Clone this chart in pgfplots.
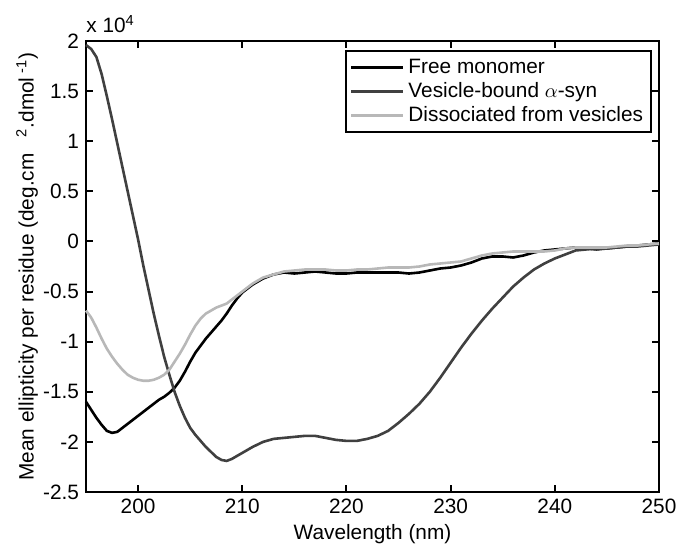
\documentclass[border=0pt]{standalone}
\usepackage{fontspec}
\setmainfont{Liberation Sans}
\usepackage{pgfplots}
\pgfplotsset{compat=1.18}
\definecolor{vesgray}{gray}{0.25}
\definecolor{disgray}{gray}{0.72}

\begin{document}
\begin{tikzpicture}
\useasboundingbox (0,0) rectangle (339.5pt,273pt);
\begin{axis}[
    at={(43pt,27pt)}, anchor=south west,
    scale only axis,
    width=286.5pt, height=225.5pt,
    xmin=195, xmax=250,
    ymin=-2.5, ymax=2,
    xtick={200,210,...,250},
    ytick={-2.5,-2,...,2},
    tick align=inside,
    tick pos=both,
    major tick length=3.5pt,
    axis line style={line width=1.2pt},
    every tick/.style={black, line width=1pt},
    font=\fontsize{10.4}{12.5}\selectfont,
    /pgf/number format/assume math mode=true,
    /pgf/number format/fixed,
    xlabel={Wavelength (nm)},
    ylabel={Mean ellipticity per residue (deg.cm\hspace{8pt}\textsuperscript{2}.dmol\textsuperscript{ -1})},
    xlabel style={at={(axis description cs:0.5,-0.093)}, anchor=center},
    ylabel style={at={(axis description cs:-0.103,0.5)}, anchor=center},
    legend style={at={(rel axis cs:0.988,0.98)}, anchor=north east,
        draw=black, line width=1pt, inner sep=2pt,
        row sep=-1pt, font=\fontsize{10.4}{12.5}\selectfont},
    legend cell align=left,
    legend image code/.code={\draw[#1] (0pt,0pt) -- (26pt,0pt);},
    clip=false,
]
\addplot[black, line width=1.3pt] coordinates {
(195,-1.60) (195.5,-1.68) (196,-1.76) (196.5,-1.83) (197,-1.89) (197.5,-1.91)
(198,-1.90) (198.5,-1.86) (199,-1.82) (199.5,-1.78) (200,-1.74) (200.5,-1.70)
(201,-1.66) (201.5,-1.62) (202,-1.58) (202.5,-1.55) (203,-1.51) (203.5,-1.46)
(204,-1.39) (204.5,-1.30) (205,-1.20) (205.5,-1.11) (206,-1.04) (206.5,-0.97)
(207,-0.91) (207.5,-0.85) (208,-0.79) (208.5,-0.72) (209,-0.64) (209.5,-0.57)
(210,-0.51) (211,-0.43) (212,-0.37) (213,-0.33) (214,-0.31) (215,-0.32)
(216,-0.31) (217,-0.30) (218,-0.31) (219,-0.32) (220,-0.32) (221,-0.31)
(222,-0.31) (223,-0.31) (224,-0.31) (225,-0.31) (226,-0.32) (227,-0.31)
(228,-0.29) (229,-0.27) (230,-0.26) (231,-0.24) (232,-0.21) (233,-0.17)
(234,-0.15) (235,-0.15) (236,-0.16) (237,-0.14) (238,-0.11) (239,-0.09)
(240,-0.08) (241,-0.07) (242,-0.06) (243,-0.07) (244,-0.08) (245,-0.07)
(246,-0.06) (247,-0.05) (248,-0.04) (249,-0.03) (250,-0.02)
};
\addlegendentry{Free monomer}
\addplot[vesgray, line width=1.3pt] coordinates {
(195,1.96) (195.5,1.92) (196,1.84) (196.5,1.67) (197,1.45) (197.5,1.22)
(198,0.98) (198.5,0.74) (199,0.50) (199.5,0.26) (200,0.02) (200.5,-0.24)
(201,-0.48) (201.5,-0.72) (202,-0.94) (202.5,-1.15) (203,-1.33) (203.5,-1.50)
(204,-1.64) (204.5,-1.76) (205,-1.86) (205.5,-1.93) (206,-1.99) (206.5,-2.05)
(207,-2.10) (207.5,-2.15) (208,-2.18) (208.5,-2.19) (209,-2.17) (209.5,-2.14)
(210,-2.11) (211,-2.05) (212,-2.00) (213,-1.97) (214,-1.96) (215,-1.95)
(216,-1.94) (217,-1.94) (218,-1.96) (219,-1.98) (220,-1.99) (221,-1.99)
(222,-1.97) (223,-1.94) (224,-1.89) (225,-1.81) (226,-1.72) (227,-1.62)
(228,-1.50) (229,-1.36) (230,-1.21) (231,-1.06) (232,-0.92) (233,-0.79)
(234,-0.67) (235,-0.56) (236,-0.45) (237,-0.36) (238,-0.28) (239,-0.22)
(240,-0.17) (241,-0.13) (242,-0.09) (243,-0.08) (244,-0.07) (245,-0.07)
(246,-0.06) (247,-0.05) (248,-0.05) (249,-0.04) (250,-0.03)
};
\addlegendentry{Vesicle-bound $\alpha$-syn}
\addplot[disgray, line width=1.3pt] coordinates {
(195,-0.69) (195.5,-0.76) (196,-0.86) (196.5,-0.97) (197,-1.07) (197.5,-1.15)
(198,-1.22) (198.5,-1.28) (199,-1.33) (199.5,-1.36) (200,-1.38) (200.5,-1.39)
(201,-1.39) (201.5,-1.38) (202,-1.36) (202.5,-1.33) (203,-1.28) (203.5,-1.20)
(204,-1.12) (204.5,-1.03) (205,-0.93) (205.5,-0.84) (206,-0.77) (206.5,-0.72)
(207,-0.69) (207.5,-0.66) (208,-0.64) (208.5,-0.62) (209,-0.58) (209.5,-0.54)
(210,-0.50) (211,-0.42) (212,-0.36) (213,-0.33) (214,-0.30) (215,-0.29)
(216,-0.28) (217,-0.28) (218,-0.28) (219,-0.29) (220,-0.29) (221,-0.28)
(222,-0.28) (223,-0.27) (224,-0.26) (225,-0.26) (226,-0.26) (227,-0.25)
(228,-0.23) (229,-0.22) (230,-0.21) (231,-0.20) (232,-0.17) (233,-0.14)
(234,-0.12) (235,-0.11) (236,-0.10) (237,-0.10) (238,-0.10) (239,-0.10)
(240,-0.09) (241,-0.07) (242,-0.06) (243,-0.06) (244,-0.06) (245,-0.06)
(246,-0.05) (247,-0.04) (248,-0.04) (249,-0.03) (250,-0.02)
};
\addlegendentry{Dissociated from vesicles}
\node[anchor=south west, inner sep=0pt] at (rel axis cs:0,1) [yshift=4pt] {x 10\textsuperscript{4}};
\end{axis}
\end{tikzpicture}
\end{document}
